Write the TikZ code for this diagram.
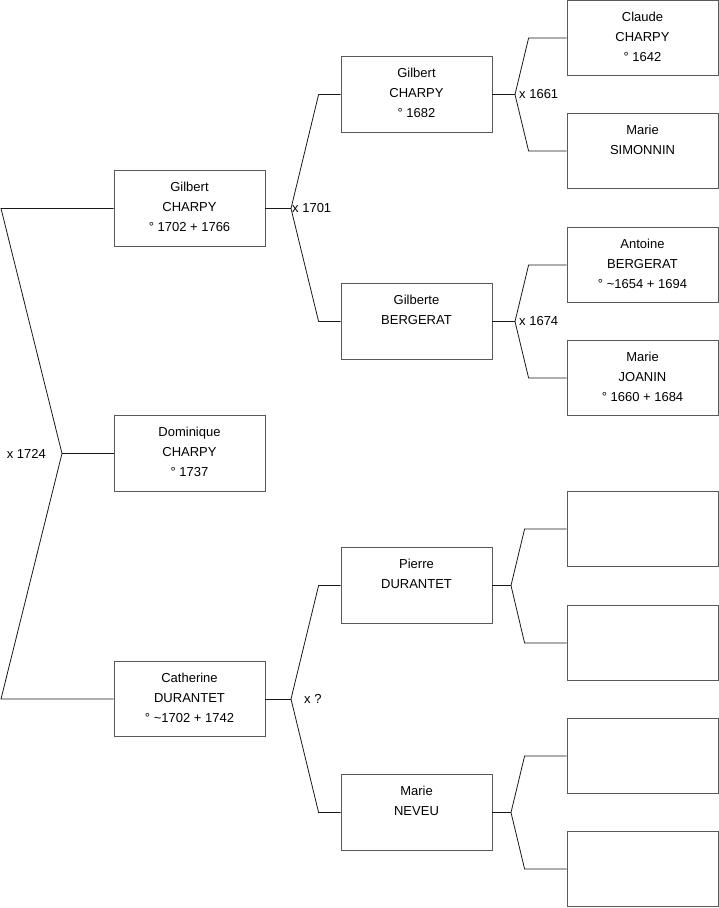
\documentclass[tikz,border=0pt]{standalone}
\usepackage{fontspec}
\setmainfont{Liberation Sans}
\usepackage{tikz}
\usetikzlibrary{calc}
\tikzset{
  personbox/.style={draw=black!65,line width=0.8pt,minimum width=151pt,minimum height=75.5pt,inner sep=0pt},
  persontext/.style={anchor=north,align=center,inner sep=0pt,font=\fontsize{13}{20}\selectfont,yshift=-12pt},
  famline/.style={draw=black!90,line width=0.8pt},
  marriage/.style={font=\fontsize{13}{14}\selectfont,inner sep=0pt}
}
\begin{document}
\begin{tikzpicture}[x=1pt,y=-1pt]
  \useasboundingbox (0,0) rectangle (719,908);
  \node[personbox] (gilbert) at (189.5,208.5) {};
  \node[personbox] (dominique) at (189.5,453.5) {};
  \node[personbox] (catherine) at (189.5,699) {};
  \node[personbox] (gilbertp) at (416.5,94.5) {};
  \node[personbox] (gilberte) at (416.5,321.5) {};
  \node[personbox] (pierre) at (416.5,585.5) {};
  \node[personbox] (marien) at (416.5,812.5) {};
  \node[personbox] (claude) at (642.5,38) {};
  \node[personbox] (maries) at (642.5,151) {};
  \node[personbox] (antoine) at (642.5,265) {};
  \node[personbox] (mariej) at (642.5,378) {};
  \node[personbox] (emptya) at (642.5,529) {};
  \node[personbox] (emptyb) at (642.5,643) {};
  \node[personbox] (emptyc) at (642.5,756) {};
  \node[personbox] (emptyd) at (642.5,869) {};
  \node[persontext] at (gilbert.north) {Gilbert\\CHARPY\\° 1702 + 1766};
  \node[persontext] at (dominique.north) {Dominique\\CHARPY\\° 1737};
  \node[persontext] at (catherine.north) {Catherine\\DURANTET\\° \textasciitilde1702 + 1742};
  \node[persontext] at (gilbertp.north) {Gilbert\\CHARPY\\° 1682};
  \node[persontext] at (gilberte.north) {Gilberte\\BERGERAT};
  \node[persontext] at (pierre.north) {Pierre\\DURANTET};
  \node[persontext] at (marien.north) {Marie\\NEVEU};
  \node[persontext] at (claude.north) {Claude\\CHARPY\\° 1642};
  \node[persontext] at (maries.north) {Marie\\SIMONNIN};
  \node[persontext] at (antoine.north) {Antoine\\BERGERAT\\° \textasciitilde1654 + 1694};
  \node[persontext] at (mariej.north) {Marie\\JOANIN\\° 1660 + 1684};
  \coordinate (jroot) at (62,453.5);
  \coordinate (rtop) at (1,208.5);
  \coordinate (rbot) at (1,699);
  \draw[famline] (gilbert.west) -- (rtop) -- (jroot) -- (rbot) -- (catherine.west);
  \draw[famline] (jroot) -- (dominique.west);
  \node[marriage,anchor=east] at ([xshift=-16pt]jroot) {x 1724};
  \coordinate (jgil) at (291,208.5);
  \draw[famline] (gilbert.east) -- (jgil);
  \draw[famline] (jgil) -- ([xshift=-22pt]gilbertp.west) -- (gilbertp.west);
  \draw[famline] (jgil) -- ([xshift=-22pt]gilberte.west) -- (gilberte.west);
  \node[marriage,anchor=west] at ([xshift=1pt]jgil) {x 1701};
  \coordinate (jcat) at (291,699);
  \draw[famline] (catherine.east) -- (jcat);
  \draw[famline] (jcat) -- ([xshift=-22pt]pierre.west) -- (pierre.west);
  \draw[famline] (jcat) -- ([xshift=-22pt]marien.west) -- (marien.west);
  \node[marriage,anchor=west] at ([xshift=13pt]jcat) {x ?};
  \coordinate (jgilp) at (515,94.5);
  \draw[famline] (gilbertp.east) -- (jgilp);
  \draw[famline] (jgilp) -- ([xshift=-38pt]claude.west) -- (claude.west);
  \draw[famline] (jgilp) -- ([xshift=-38pt]maries.west) -- (maries.west);
  \node[marriage,anchor=west] at ([xshift=4pt]jgilp) {x 1661};
  \coordinate (jgile) at (515,321.5);
  \draw[famline] (gilberte.east) -- (jgile);
  \draw[famline] (jgile) -- ([xshift=-38pt]antoine.west) -- (antoine.west);
  \draw[famline] (jgile) -- ([xshift=-38pt]mariej.west) -- (mariej.west);
  \node[marriage,anchor=west] at ([xshift=4pt]jgile) {x 1674};
  \coordinate (jpie) at (511,585.5);
  \draw[famline] (pierre.east) -- (jpie);
  \draw[famline] (jpie) -- ([xshift=-42pt]emptya.west) -- (emptya.west);
  \draw[famline] (jpie) -- ([xshift=-42pt]emptyb.west) -- (emptyb.west);
  \coordinate (jmar) at (511,812.5);
  \draw[famline] (marien.east) -- (jmar);
  \draw[famline] (jmar) -- ([xshift=-42pt]emptyc.west) -- (emptyc.west);
  \draw[famline] (jmar) -- ([xshift=-42pt]emptyd.west) -- (emptyd.west);
\end{tikzpicture}
\end{document}
